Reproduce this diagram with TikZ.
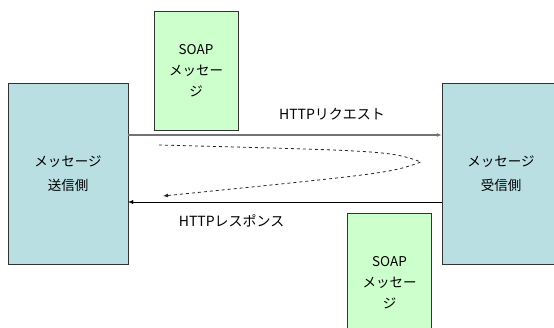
\documentclass[tikz,border=0pt]{standalone}
\usepackage{fontspec}
\setmainfont{Noto Sans CJK JP}
\usetikzlibrary{arrows.meta}
\definecolor{partner}{RGB}{186,223,227}
\definecolor{soap}{RGB}{204,255,204}
\begin{document}
\begin{tikzpicture}[x=1pt,y=-1pt,>={Latex[length=5pt,width=4pt]},
  partei/.style={draw=black!80,fill=partner,minimum width=120pt,minimum height=181pt,align=center,font=\fontsize{13.5}{24}\selectfont},
  nachricht/.style={draw=black!80,fill=soap,minimum width=84pt,text width=66pt,align=center,font=\fontsize{13.5}{21}\selectfont}]
  \useasboundingbox (0,0) rectangle (554,328);
  \node[partei] (sender) at (68,173.5) {メッセージ\\送信側}; % links
  \node[partei,minimum width=118pt] (receiver) at (501,173.5) {メッセージ\\受信側}; % rechts
  \node[nachricht,minimum height=119pt] (soapA) at (196,71) {SOAP\\メッセー\\ジ};
  \node[nachricht,minimum height=140pt] (soapB) at (389.5,283) {SOAP\\メッセー\\ジ};
  % Anfrage und Antwort
  \coordinate (reqA) at (sender.east |- 0,135);
  \coordinate (reqB) at (receiver.west |- 0,135);
  \coordinate (resA) at (sender.east |- 0,202);
  \coordinate (resB) at (receiver.west |- 0,202);
  \draw[->,black!55,line width=1.2pt] (reqA) -- (reqB) node[pos=0.65,above=11pt,black,font=\fontsize{14}{16}\selectfont] (req) {HTTPリクエスト};
  \draw[->] (resB) -- (resA) node[pos=0.67,below=9pt,font=\fontsize{14}{16}\selectfont] (res) {HTTPレスポンス};
  % Die Schleife
  \coordinate (loopA) at (159,145);
  \coordinate (loopB) at (163,196);
  \draw[dashed,->,thick,black!85] (loopA) .. controls (390,151) .. (421,162) .. controls (390,173) .. (loopB);
\end{tikzpicture}
\end{document}
